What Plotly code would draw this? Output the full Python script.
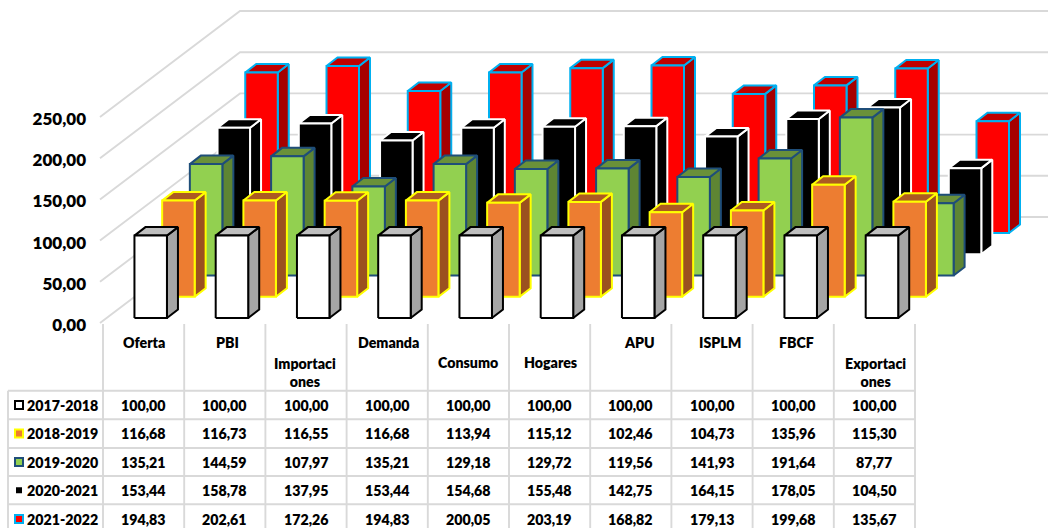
import plotly.graph_objects as go

# ---------- data ----------
categories = ["Oferta", "PBI", "Importaciones", "Demanda", "Consumo",
              "Hogares", "APU", "ISPLM", "FBCF", "Exportaciones"]
header_labels = ["Oferta", "PBI", "Importaci<br>ones", "Demanda", "Consumo",
                 "Hogares", "APU", "ISPLM", "FBCF", "Exportaci<br>ones"]
periods = ["2017-2018", "2018-2019", "2019-2020", "2020-2021", "2021-2022"]
v_2017_2018 = [100.00, 100.00, 100.00, 100.00, 100.00, 100.00, 100.00, 100.00, 100.00, 100.00]
v_2018_2019 = [116.68, 116.73, 116.55, 116.68, 113.94, 115.12, 102.46, 104.73, 135.96, 115.30]
v_2019_2020 = [135.21, 144.59, 107.97, 135.21, 129.18, 129.72, 119.56, 141.93, 191.64, 87.77]
v_2020_2021 = [153.44, 158.78, 137.95, 153.44, 154.68, 155.48, 142.75, 164.15, 178.05, 104.50]
v_2021_2022 = [194.83, 202.61, 172.26, 194.83, 200.05, 203.19, 168.82, 179.13, 199.68, 135.67]
series = [v_2017_2018, v_2018_2019, v_2019_2020, v_2020_2021, v_2021_2022]
y_ticks = [0, 50, 100, 150, 200, 250]

# ---------- styles: front, side, top, outline ----------
styles = [
    ("#ffffff", "#a5a5a5", "#bfbfbf", "#000000"),
    ("#ed7d31", "#9b511f", "#ac5a22", "#ffff00"),
    ("#92d050", "#5e8533", "#6a9139", "#1f4e79"),
    ("#000000", "#000000", "#000000", "#ffffff"),
    ("#ff0000", "#a60000", "#c00000", "#00b0f0"),
]
GRID = "#d9d9d9"
FONT = "Lato"

# ---------- geometry of the oblique projection (page pixels) ----------
W, H = 1048, 528
PX_CAT = 81.2        # one category step
PX_VAL = 0.824       # one value unit
COL0 = 143.6         # page x of first table column centre
ZERO = 323.0         # page y of value 0 on the front plane

def ux(px):          # horizontal pixel distance -> category units
    return px / PX_CAT
def uy(px):          # vertical pixel distance -> value units
    return px / PX_VAL
def vx(page_x):      # page x -> axis x
    return (page_x - COL0) / PX_CAT
def vy(page_y):      # page y -> axis y
    return (ZERO - page_y) / PX_VAL

BAR_W = ux(32.5)
BAR_OFF = ux(7.1)
BAR_PITCH = 81.25 / PX_CAT
S_DX, S_DY = ux(27.7), uy(21.25)
BASE0 = uy(5.0)
BOX_DX, BOX_DY = ux(11.0), uy(8.5)

fig = go.Figure()

def add_poly(xs, ys, fill, line, lw=2.0):
    fig.add_trace(go.Scatter(x=xs, y=ys, mode="lines", fill="toself", fillcolor=fill,
                             line=dict(color=line, width=lw), hoverinfo="skip", showlegend=False))

def add_line(xs, ys, color=GRID, lw=1.9):
    fig.add_trace(go.Scatter(x=xs, y=ys, mode="lines", line=dict(color=color, width=lw),
                             hoverinfo="skip", showlegend=False))

# walls: oblique gridlines then back-wall gridlines
WALL_DX, WALL_DY = ux(140), uy(106)
for t in y_ticks:
    x0 = vx(100)
    add_line([x0, x0 + WALL_DX, vx(W + 5)], [t, t + WALL_DY, t + WALL_DY])

# bars, back row first
for s in range(len(series) - 1, -1, -1):
    front, side, top, outline = styles[s]
    fx, fy, sx, sy, tx, ty = [], [], [], [], [], []
    for i, v in enumerate(series[s]):
        left = i * BAR_PITCH + BAR_OFF - BAR_W / 2 + s * S_DX
        right = left + BAR_W
        base = BASE0 + s * S_DY
        head = base + v
        fx += [left, right, right, left, left, None]
        fy += [base, base, head, head, base, None]
        sx += [right, right + BOX_DX, right + BOX_DX, right, right, None]
        sy += [base, base + BOX_DY, head + BOX_DY, head, base, None]
        tx += [left, right, right + BOX_DX, left + BOX_DX, left, None]
        ty += [head, head, head + BOX_DY, head + BOX_DY, head, None]
    add_poly(sx, sy, side, outline)
    add_poly(tx, ty, top, outline)
    add_poly(fx, fy, front, outline)

# table rules
ROW_LINES = [390.7, 419.3, 448.0, 476.0, 504.3]
ROW_TEXT = [405, 433.5, 462, 490.3, 519]
TABLE_L, TABLE_TOP = 8, 324
for y in ROW_LINES:
    add_line([vx(TABLE_L), vx(915)], [vy(y), vy(y)])
add_line([vx(TABLE_L), vx(TABLE_L)], [vy(ROW_LINES[0]), vy(H + 2)])
for i in range(len(categories) + 1):
    x = i - 0.5
    add_line([x, x], [vy(TABLE_TOP), vy(H + 2)])

# legend keys
for s, name in enumerate(periods):
    front, _, _, outline = styles[s]
    fig.add_trace(go.Scatter(x=[vx(19)], y=[vy(ROW_TEXT[s])], mode="markers",
                             marker=dict(symbol="square", size=8, color=front,
                                         line=dict(color=outline, width=2)),
                             hoverinfo="skip", showlegend=False, name=name))

# table text
def text(x, y, s, size=14.2, anchor="center"):
    fig.add_annotation(x=x, y=y, xref="x", yref="y", text=s, showarrow=False,
                       xanchor=anchor, yanchor="middle",
                       font=dict(family=FONT, size=size, color="#000000", weight=800))

def fmt(v):
    return f"{v:.2f}".replace(".", ",")

header_dx = [0, 3, -1, 1, 0, 1, 9, 8, 3, 1]
header_y = [342.7, 342.7, 372.3, 342.7, 362.7, 362.7, 342.7, 342.7, 342.7, 372.3]
for i, lab in enumerate(header_labels):
    text(i + ux(header_dx[i]), vy(header_y[i]), lab)
for s, name in enumerate(periods):
    text(vx(24.5), vy(ROW_TEXT[s]), name, anchor="left")
    for i, v in enumerate(series[s]):
        text(i, vy(ROW_TEXT[s]), fmt(v))

fig.update_layout(
    width=W, height=H, margin=dict(l=0, r=0, t=0, b=0),
    paper_bgcolor="#ffffff", plot_bgcolor="#ffffff", showlegend=False,
    xaxis=dict(range=[vx(0), vx(W)], visible=False, fixedrange=True),
    yaxis=dict(range=[vy(H), vy(0)], anchor="free", position=86 / W, side="left",
               tickmode="array", tickvals=y_ticks, ticktext=[fmt(t) for t in y_ticks],
               showgrid=False, zeroline=False, showline=False, ticks="", fixedrange=True,
               ticklabelshift=2,
               tickfont=dict(family=FONT, size=17, color="#000000", weight=800)),
)

fig.write_html("out.html", config={"displayModeBar": False},
               post_script="document.body.style.margin='0';document.body.style.overflow='hidden';")
